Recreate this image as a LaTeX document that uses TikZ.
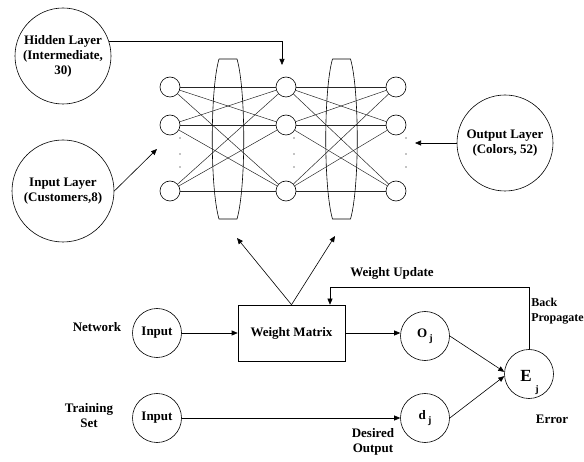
\documentclass[tikz,border=0pt]{standalone}
\usepackage{fontspec}
\setmainfont{Liberation Serif}
\usetikzlibrary{arrows.meta,calc}
\begin{document}
\begin{tikzpicture}[x=1pt,y=-1pt,line width=0.6pt,
  txt/.style={font=\bfseries\fontsize{13}{15}\selectfont,align=center,inner sep=0pt},
  layer/.style={draw,circle,inner sep=0pt,font=\bfseries\fontsize{13}{15}\selectfont,align=center},
  smallc/.style={draw,circle,minimum size=49pt,inner sep=0pt,font=\bfseries\fontsize{13}{15}\selectfont},
  neuron/.style={draw,circle,minimum size=20pt,inner sep=0pt},
  link/.style={draw=black!85,line width=0.5pt},
  arr/.style={-{Triangle[length=6pt,width=5pt]}},
  dotm/.style={fill=black,inner sep=0pt,minimum size=1.2pt,circle},
  barrel/.pic={\draw (-9,-80) -- (9,-80) .. controls (18,-49) and (18,49) .. (9,80) -- (-9,80) .. controls (-18,49) and (-18,-49) .. (-9,-80);}]
\useasboundingbox (0,0) rectangle (584,462);

% layer circles
\node[layer,minimum size=96pt] (HL) at (63,56) {Hidden Layer\\(Intermediate,\\30)};
\node[layer,minimum size=102pt] (IL) at (63,191) {Input Layer\\(Customers,8)};
\node[layer,minimum size=96pt] (OL) at (505,143) {Output Layer\\(Colors, 52)};

% network neurons
\foreach \c/\x in {1/170,2/286,3/396}{
  \node[neuron] (n\c1) at (\x,87) {};
  \node[neuron] (n\c2) at (\x,125) {};
  \node[neuron] (n\c3) at (\x,191) {};
}
\foreach \a in {1,2,3}{
  \foreach \b in {1,2,3}{
    \draw[link] (n1\a) -- (n2\b);
    \draw[link] (n2\a) -- (n3\b);
  }
}
\foreach \x in {180,294,406}{
  \foreach \y in {138,154,167}{
    \node[dotm] at (\x,\y) {};
  }
}
\pic at (228,139) {barrel};
\pic at (341.5,139) {barrel};

% arrows into the network
\coordinate (hidtip) at (282,65);
\coordinate (intip) at (157,149);
\coordinate (outtip) at (415,143);
\draw[arr] (HL.18) -| (hidtip);
\draw[arr] (IL.east) -- (intip);
\draw[arr] (OL.west) -- (outtip);

% training part
\node[draw,rectangle,minimum width=107pt,minimum height=56pt,inner sep=0pt,font=\bfseries\fontsize{13}{15}\selectfont] (WM) at (291.5,333) {Weight Matrix};
\node[smallc] (NI) at (157,333) {Input};
\node[smallc] (TI) at (157,418) {Input};
\node[smallc] (Oj) at (425,336) {O\,\raisebox{-4pt}{\fontsize{10}{10}\selectfont j}};
\node[smallc] (dj) at (425,418) {d\,\raisebox{-4pt}{\fontsize{10}{10}\selectfont j}};
\node[draw,circle,minimum size=49pt,inner sep=0pt] (Ej) at (529,374) {};
\node[inner sep=0pt,font=\bfseries\fontsize{17}{17}\selectfont] (Elet) at (526,376) {E};
\node[inner sep=0pt,font=\bfseries\fontsize{10}{10}\selectfont] (Esub) at (537,390) {j};

\coordinate (up1) at (237,238);
\coordinate (up2) at (335,236);
\draw[arr] (WM.north) -- (up1);
\draw[arr] (WM.north) -- (up2);

\draw[arr] (NI.east) -- (WM.west);
\draw[arr] (WM.east) -- (WM.east -| Oj.west);
\draw[arr] (TI.east) -- (dj.west);
\draw[arr] (Oj.east) -- (Ej.175);
\draw[arr] (dj.east) -- (Ej.185);

\coordinate (bp) at (330,287);
\draw[arr] (Ej.north) -- (Ej.north |- bp) -- (bp) -- (bp |- WM.north);

% labels
\node[txt] (lnet) at (97,327) {Network};
\node[txt] (ltrain) at (89,416) {Training\\Set};
\node[txt] (lwu) at (392,273) {Weight Update};
\node[txt,align=left,anchor=west,font=\bfseries\fontsize{12}{15}\selectfont] (lbp) at (531,311) {Back\\Propagate};
\node[txt] (lerr) at (552,419) {Error};
\node[txt] (ldes) at (373,442) {Desired\\Output};
\end{tikzpicture}
\end{document}
